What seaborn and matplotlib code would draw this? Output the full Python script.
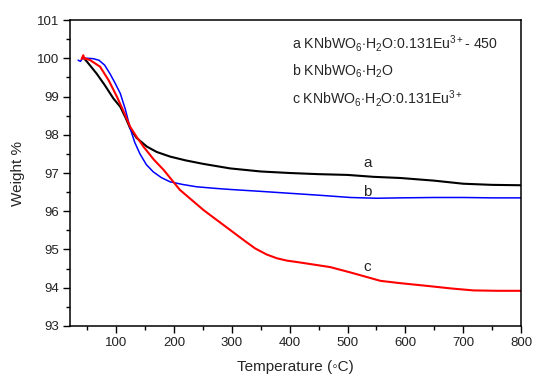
import matplotlib
matplotlib.use("Agg")
import matplotlib.pyplot as plt
import seaborn as sns
import numpy as np
import pandas as pd
from matplotlib.ticker import MultipleLocator

sns.set_theme(style="ticks")
plt.rcParams['font.family'] = ['Liberation Sans', 'DejaVu Sans']
plt.rcParams['mathtext.fontset'] = 'custom'
plt.rcParams['mathtext.rm'] = 'Liberation Sans'
plt.rcParams['mathtext.it'] = 'Liberation Sans'

# curve a (black)
temp_a = [44, 50, 66, 80, 95, 107, 116, 124, 135, 153, 170, 193, 220, 250, 297, 350, 400,
          450, 500, 545, 591, 650, 700, 750, 800]
weight_a = [100.0, 99.9, 99.6, 99.3, 98.95, 98.73, 98.45, 98.17, 97.92, 97.69, 97.55, 97.43,
            97.33, 97.24, 97.12, 97.04, 97.0, 96.97, 96.95, 96.9, 96.87, 96.8, 96.72, 96.69, 96.68]

# curve b (blue)
temp_b = [34, 38, 42, 50, 60, 70, 80, 89, 98, 107, 116, 124, 132, 141, 152, 164, 178, 193, 215,
          239, 270, 297, 350, 400, 450, 505, 550, 591, 650, 700, 750, 800]
weight_b = [99.95, 99.92, 100.0, 100.0, 99.99, 99.95, 99.82, 99.6, 99.35, 99.08, 98.65, 98.17,
            97.8, 97.5, 97.22, 97.03, 96.88, 96.77, 96.7, 96.64, 96.6, 96.57, 96.52, 96.47,
            96.42, 96.36, 96.34, 96.35, 96.36, 96.36, 96.35, 96.35]

# curve c (red)
temp_c = [40, 43, 45, 46, 55, 72, 87, 101, 113, 124, 135, 147, 165, 182, 210, 251, 297, 320,
          340, 360, 378, 395, 418, 470, 505, 557, 591, 643, 680, 718, 760, 800]
weight_c = [99.98, 100.08, 99.98, 100.0, 99.95, 99.78, 99.42, 99.0, 98.6, 98.21, 97.95, 97.69,
            97.35, 97.08, 96.56, 96.03, 95.51, 95.25, 95.03, 94.87, 94.77, 94.71, 94.66, 94.54,
            94.4, 94.18, 94.12, 94.04, 93.98, 93.93, 93.92, 93.92]

legend_lines = [r'a KNbWO$_6$$\cdot$H$_2$O:0.131Eu$^{3+}$- 450',
                r'b KNbWO$_6$$\cdot$H$_2$O',
                r'c KNbWO$_6$$\cdot$H$_2$O:0.131Eu$^{3+}$']

df = pd.concat([
    pd.DataFrame({'T': temp_a, 'W': weight_a, 's': 'a'}),
    pd.DataFrame({'T': temp_b, 'W': weight_b, 's': 'b'}),
    pd.DataFrame({'T': temp_c, 'W': weight_c, 's': 'c'}),
])

fig = plt.figure(figsize=(5.36, 3.78), dpi=100)
ax = fig.add_axes([0.1306, 0.1376, 0.8414, 0.8094])

palette = {'a': 'black', 'b': 'blue', 'c': 'red'}
sizes = {'a': 1.5, 'b': 1.1, 'c': 1.5}
for s, sub in df.groupby('s'):
    sns.lineplot(data=sub, x='T', y='W', ax=ax, color=palette[s], linewidth=sizes[s],
                 sort=False, estimator=None, legend=False)

ax.set_xlim(20, 800)
ax.set_ylim(93, 101)
ax.xaxis.set_major_locator(MultipleLocator(100))
ax.xaxis.set_minor_locator(MultipleLocator(50))
ax.yaxis.set_major_locator(MultipleLocator(1))
ax.yaxis.set_minor_locator(MultipleLocator(0.5))
ax.set_xticks(range(100, 801, 100))
ax.tick_params(which='major', direction='out', length=5, width=1, labelsize=9.5, color='black',
               labelcolor='#222222', pad=3)
ax.tick_params(which='minor', direction='out', length=3, width=1, color='black')
for sp in ax.spines.values():
    sp.set_color('black')
    sp.set_linewidth(1.1)

ax.set_xlabel('Temperature (\u25e6C)', fontsize=11, labelpad=8)
ax.set_ylabel('Weight %', fontsize=11, labelpad=8)

for lbl, (tx, ty) in zip(['a', 'b', 'c'], [(534, 97.25), (534, 96.5), (534, 94.55)]):
    ax.text(tx, ty, lbl, fontsize=11, ha='center', va='center')

for i, line in enumerate(legend_lines):
    ax.text(404, [100.26, 99.56, 98.82][i], line, fontsize=10.2, ha='left', va='baseline')

fig.savefig('out.png', dpi=100)
